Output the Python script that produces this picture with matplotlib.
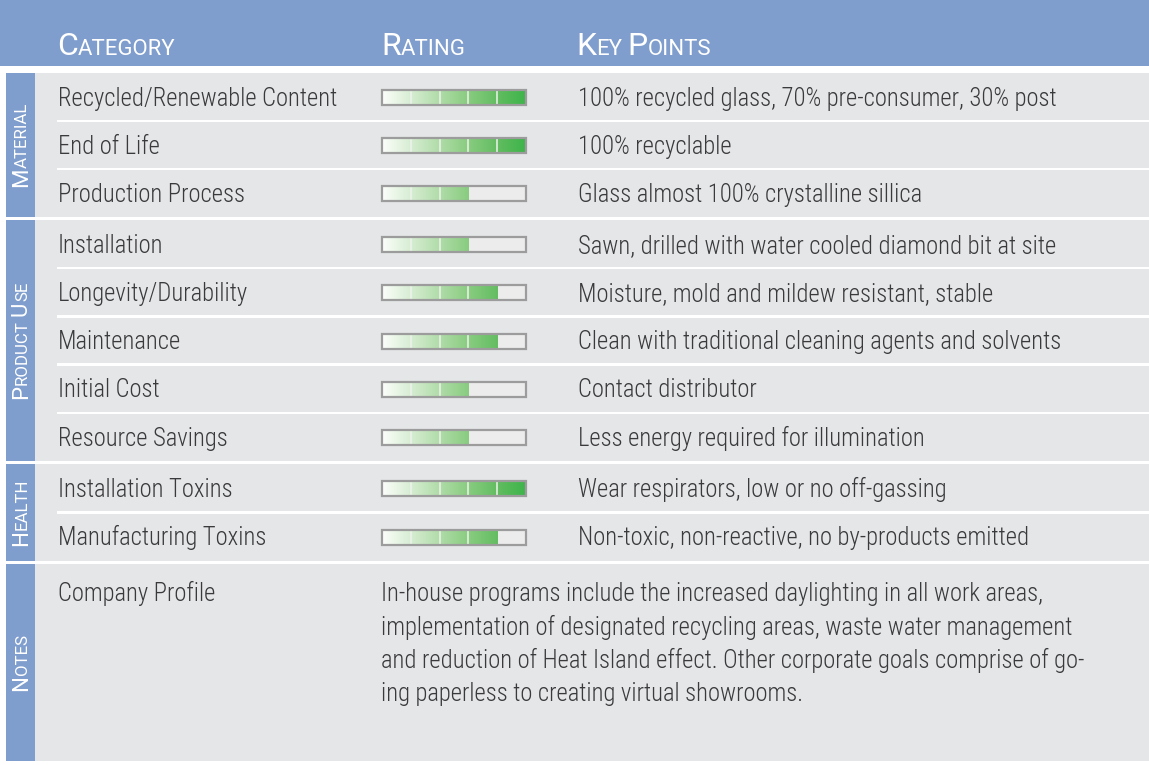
import matplotlib
matplotlib.use("Agg")
import matplotlib.pyplot as plt
import numpy as np
from matplotlib.patches import Rectangle
from matplotlib import font_manager as fm
from matplotlib.font_manager import FontProperties
from matplotlib.colors import to_rgb

# ---------------- data ----------------
headers = ["Category", "Rating", "Key Points"]
sections = ["Material", "Product Use", "Health", "Notes"]
categories = ["Recycled/Renewable Content", "End of Life", "Production Process",
              "Installation", "Longevity/Durability", "Maintenance", "Initial Cost",
              "Resource Savings", "Installation Toxins", "Manufacturing Toxins"]
category_section = [0, 0, 0, 1, 1, 1, 1, 1, 2, 2]
ratings = [5, 5, 3, 3, 4, 4, 3, 3, 5, 4]
max_rating = 5
key_points = ["100% recycled glass, 70% pre-consumer, 30% post",
              "100% recyclable",
              "Glass almost 100% crystalline sillica",
              "Sawn, drilled with water cooled diamond bit at site",
              "Moisture, mold and mildew resistant, stable",
              "Clean with traditional cleaning agents and solvents",
              "Contact distributor",
              "Less energy required for illumination",
              "Wear respirators, low or no off-gassing",
              "Non-toxic, non-reactive, no by-products emitted"]
notes_label = "Company Profile"
notes_lines = ["In-house programs include the increased daylighting in all work areas,",
               "implementation of designated recycling areas, waste water management",
               "and reduction of Heat Island effect. Other corporate goals comprise of go-",
               "ing paperless to creating virtual showrooms."]

# ---------------- style / layout ----------------
W, H = 1149, 765
BLUE = "#7f9ecd"
GRAY = "#e5e6e8"
TXT = "#3a3a3c"
section_tops = [73, 220, 464, 564]
section_bottoms = [217, 461, 561, 761]

fig = plt.figure(figsize=(W / 100, H / 100), dpi=100)
fig.patch.set_facecolor("white")
ax = fig.add_axes([0, 0, 1, 1])
ax.set_xlim(0, W)
ax.set_ylim(H, 0)
ax.axis("off")
renderer = fig.canvas.get_renderer()

names = {f.name for f in fm.fontManager.ttflist}
fam = None
for c in ["Roboto Condensed", "Liberation Sans Narrow", "Open Sans Condensed"]:
    if c in names:
        fam = c
        break
stretch = "normal"
if fam is None:
    if any(f.name == "DejaVu Sans" and f.stretch == "condensed" for f in fm.fontManager.ttflist):
        fam, stretch = "DejaVu Sans", "condensed"
    else:
        fam = "Liberation Sans"
head_fam = "Roboto" if "Roboto" in names else fam
body_weight = "light" if any(f.name == fam and f.weight in (300, "light") for f in fm.fontManager.ttflist) else "normal"


def fp(size, family=None, weight="normal", st=None):
    return FontProperties(family=family or fam, size=size, weight=weight,
                          stretch=st or (stretch if (family or fam) == fam else "normal"))


def adv(s, prop):
    w1, _, _ = renderer.get_text_width_height_descent("x" + s + "x", prop, ismath=False)
    w0, _, _ = renderer.get_text_width_height_descent("xx", prop, ismath=False)
    return w1 - w0


# body font size: fit width of the reference sample
s0 = 20
body_size = s0 * 279 / adv("Recycled/Renewable Content", fp(s0, weight=body_weight))
body = fp(body_size, weight=body_weight)
CAP = 16.5

# ---------------- backgrounds ----------------
ax.add_patch(Rectangle((0, 0), W, 66, color=BLUE, lw=0))
for top, bot in zip(section_tops, section_bottoms):
    ax.add_patch(Rectangle((35, top), W - 35, bot - top, color=GRAY, lw=0))
    ax.add_patch(Rectangle((6, top), 29, bot - top, color=BLUE, lw=0))


# ---------------- small caps helper ----------------
def sc_pieces(text):
    pieces = []
    for i, word in enumerate(text.split(" ")):
        if i > 0:
            pieces.append((" ", 0))
        pieces.append((word[0].upper(), 1))
        if len(word) > 1:
            pieces.append((word[1:].upper(), 0))
    return pieces


def sc_width(text, big, small, family):
    return sum(adv(s, fp(big if b else small, family=family)) for s, b in sc_pieces(text))


def smallcaps(x, y, text, big, small, family, rotation=0, center=False):
    pieces = sc_pieces(text)
    widths = [adv(s, fp(big if b else small, family=family)) for s, b in pieces]
    total = sum(widths)
    if rotation == 0:
        cx = x
        for (s, b), w in zip(pieces, widths):
            if s != " ":
                ax.text(cx, y, s, fontproperties=fp(big if b else small, family=family),
                        color="white", ha="left", va="baseline")
            cx += w
    else:
        cy = y + total / 2 if center else y
        for (s, b), w in zip(pieces, widths):
            if s != " ":
                ax.text(x, cy, s, fontproperties=fp(big if b else small, family=family),
                        color="white", ha="left", va="baseline", rotation=90,
                        rotation_mode="anchor")
            cy -= w


# header: fit "CATEGORY" to reference width
ratio = 14.5 / 21
hw = sc_width("Category", 20, 20 * ratio, head_fam)
hb = 20 * 118 / hw
header_x = [57, 381, 576]
for hx, label in zip(header_x, headers):
    smallcaps(hx, 54.5, label, hb, hb * ratio, head_fam)

# side labels: fit "MATERIAL" to reference length
sratio = 0.76
sw = sc_width("Material", 10, 10 * sratio, head_fam)
sb = 10 * 85 / sw
for i, sec in enumerate(sections):
    cyy = (section_tops[i] + section_bottoms[i]) / 2
    smallcaps(27.0, cyy, sec, sb, sb * sratio, head_fam, rotation=90, center=True)

# ---------------- rows ----------------
grad_stops = [(0.0, "#fcfefb"), (0.2, "#d6edd2"), (0.4, "#b0dca8"),
              (0.6, "#88cc80"), (0.8, "#63bd61"), (1.0, "#3db44a")]
N = 400
pos = np.linspace(0, 1, N)
sp = [p for p, _ in grad_stops]
cols = np.array([to_rgb(c) for _, c in grad_stops])
grad = np.stack([np.interp(pos, sp, cols[:, k]) for k in range(3)], axis=-1)[None, :, :]

bar_x0, bar_x1 = 382, 526
for sec in range(3):
    idx = [i for i, s in enumerate(category_section) if s == sec]
    n = len(idx)
    top, bot = section_tops[sec], section_bottoms[sec]
    rh = (bot - top) / n
    for j, i in enumerate(idx):
        yc = top + rh * (j + 0.5)
        if j > 0:
            ax.add_patch(Rectangle((57, top + rh * j - 1.2), W - 57, 2.4, color="white", lw=0))
        ax.text(58, yc + CAP / 2 + 0.5, categories[i], fontproperties=body, color=TXT,
                ha="left", va="baseline")
        ax.text(578, yc + CAP / 2 + 0.5, key_points[i], fontproperties=body, color=TXT,
                ha="left", va="baseline")
        # rating bar
        by0, by1 = yc - 7, yc + 8
        ax.add_patch(Rectangle((bar_x0, by0), bar_x1 - bar_x0, by1 - by0,
                               facecolor="#ececec", edgecolor="none", zorder=2))
        frac = ratings[i] / max_rating
        ncol = int(round(N * frac))
        fill_w = (bar_x1 - bar_x0) * frac
        ax.imshow(grad[:, :ncol, :], extent=(bar_x0, bar_x0 + fill_w, by1, by0),
                  aspect="auto", interpolation="bilinear", zorder=3)
        for k in range(1, ratings[i]):
            xs = bar_x0 + (bar_x1 - bar_x0) * k / max_rating
            ax.plot([xs, xs], [by0, by1], color="#eef3ec", lw=1.3, alpha=0.85,
                    solid_capstyle="butt", zorder=4)
        ax.add_patch(Rectangle((bar_x0, by0), bar_x1 - bar_x0, by1 - by0,
                               facecolor="none", edgecolor="#9c9c9c", lw=1.6, zorder=5))

ax.set_xlim(0, W)
ax.set_ylim(H, 0)

# notes
ax.text(58, 601.5, notes_label, fontproperties=body, color=TXT, ha="left", va="baseline")
for k, line in enumerate(notes_lines):
    ax.text(381, 601.5 + 33.3 * k, line, fontproperties=body, color=TXT,
            ha="left", va="baseline")

fig.savefig("out.png", dpi=100, facecolor="white")
